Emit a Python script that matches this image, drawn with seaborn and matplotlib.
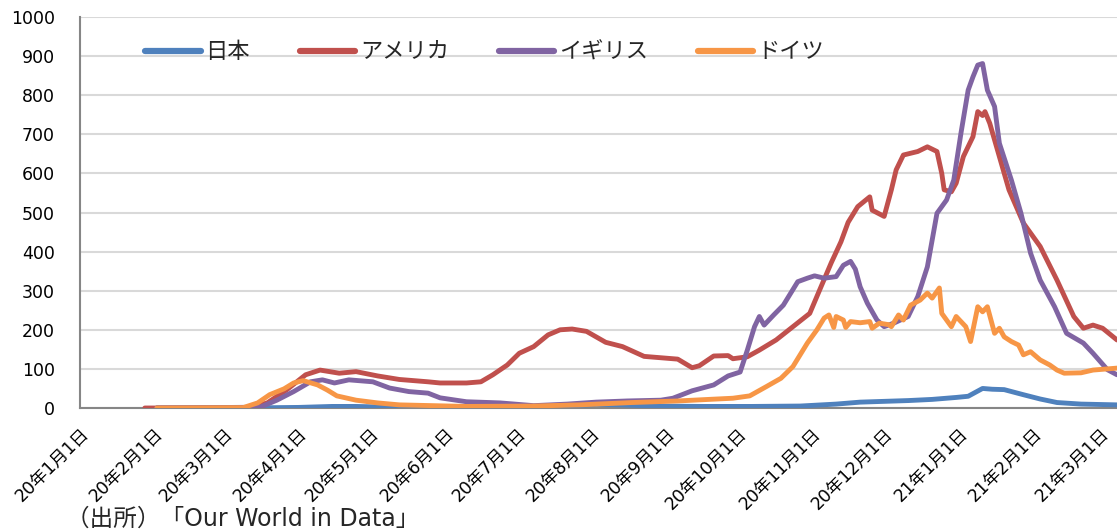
import matplotlib
matplotlib.use("Agg")
import matplotlib.pyplot as plt
from matplotlib.lines import Line2D
import seaborn as sns
import pandas as pd

# ---------------- data (new cases per million, 7-day average) ----------------
series_names = ["日本", "アメリカ", "イギリス", "ドイツ"]
series_colors = ["#4F81BD", "#C0504D", "#8064A2", "#F79646"]

japan_dates = ["2020-02-02", "2020-03-01", "2020-03-16", "2020-04-01", "2020-04-15", "2020-04-25",
               "2020-05-10", "2020-05-30", "2020-06-24", "2020-07-09", "2020-07-19", "2020-08-03",
               "2020-08-13", "2020-08-28", "2020-09-17", "2020-10-07", "2020-10-27", "2020-11-11",
               "2020-11-21", "2020-12-01", "2020-12-11", "2020-12-21", "2020-12-31", "2021-01-05",
               "2021-01-08", "2021-01-11", "2021-01-15", "2021-01-20", "2021-01-28", "2021-02-04",
               "2021-02-11", "2021-02-21", "2021-03-08"]
japan_values = [0, 0, 0.5, 1.5, 4, 4, 2, 0.5, 1, 3, 5, 9, 8, 5, 4, 4, 5, 10, 15, 17, 19, 22, 27, 30,
                40, 50, 48, 47, 34, 23, 14, 10, 8]

usa_dates = ["2020-01-28", "2020-03-01", "2020-03-12", "2020-03-19", "2020-03-27", "2020-04-04",
             "2020-04-10", "2020-04-18", "2020-04-25", "2020-05-04", "2020-05-13", "2020-05-25",
             "2020-05-30", "2020-06-10", "2020-06-16", "2020-06-21", "2020-06-27", "2020-07-02",
             "2020-07-08", "2020-07-14", "2020-07-19", "2020-07-24", "2020-07-30", "2020-08-07",
             "2020-08-14", "2020-08-23", "2020-09-06", "2020-09-12", "2020-09-15", "2020-09-21",
             "2020-09-27", "2020-09-29", "2020-10-05", "2020-10-10", "2020-10-17", "2020-10-24",
             "2020-10-31", "2020-11-04", "2020-11-09", "2020-11-13", "2020-11-16", "2020-11-20",
             "2020-11-25", "2020-11-26", "2020-12-01", "2020-12-04", "2020-12-06", "2020-12-09",
             "2020-12-15", "2020-12-19", "2020-12-23", "2020-12-25", "2020-12-26", "2020-12-29",
             "2020-12-31", "2021-01-03", "2021-01-07", "2021-01-09", "2021-01-11", "2021-01-12",
             "2021-01-14", "2021-01-18", "2021-01-22", "2021-01-28", "2021-02-04", "2021-02-11",
             "2021-02-18", "2021-02-22", "2021-02-26", "2021-03-02", "2021-03-08"]
usa_values = [0, 0, 1, 13, 46, 85, 97, 89, 93, 82, 73, 67, 64, 64, 67, 85, 110, 140, 157, 187, 200,
              202, 196, 168, 157, 132, 125, 103, 108, 133, 134, 126, 131, 148, 174, 208, 242, 300,
              372, 425, 475, 515, 540, 506, 490, 558, 609, 647, 656, 668, 656, 600, 558, 553, 575,
              643, 694, 758, 748, 758, 728, 643, 558, 473, 413, 327, 234, 204, 212, 204, 174]

uk_dates = ["2020-02-02", "2020-03-16", "2020-03-23", "2020-03-30", "2020-04-06", "2020-04-11",
            "2020-04-16", "2020-04-22", "2020-05-02", "2020-05-09", "2020-05-17", "2020-05-25",
            "2020-05-30", "2020-06-10", "2020-06-24", "2020-07-08", "2020-07-22", "2020-08-03",
            "2020-08-16", "2020-08-30", "2020-09-04", "2020-09-12", "2020-09-21", "2020-09-27",
            "2020-10-02", "2020-10-05", "2020-10-08", "2020-10-10", "2020-10-12", "2020-10-16",
            "2020-10-20", "2020-10-26", "2020-10-30", "2020-11-02", "2020-11-06", "2020-11-11",
            "2020-11-14", "2020-11-17", "2020-11-19", "2020-11-21", "2020-11-24", "2020-11-28",
            "2020-12-01", "2020-12-05", "2020-12-11", "2020-12-15", "2020-12-19", "2020-12-23",
            "2020-12-27", "2020-12-30", "2021-01-02", "2021-01-05", "2021-01-07", "2021-01-09",
            "2021-01-11", "2021-01-13", "2021-01-16", "2021-01-18", "2021-01-23", "2021-01-27",
            "2021-01-31", "2021-02-04", "2021-02-10", "2021-02-15", "2021-02-22", "2021-02-26",
            "2021-03-04", "2021-03-08"]
uk_values = [0, 2, 20, 42, 67, 72, 64, 72, 67, 51, 42, 38, 26, 16, 13, 6, 10, 15, 18, 20, 25, 44,
             59, 82, 92, 148, 208, 234, 212, 238, 263, 323, 332, 338, 332, 336, 365, 375, 355, 310,
             268, 225, 208, 217, 234, 285, 361, 498, 532, 583, 703, 813, 847, 877, 881, 813, 771,
             677, 583, 498, 396, 327, 259, 191, 166, 140, 98, 85]

germany_dates = ["2020-02-02", "2020-03-09", "2020-03-15", "2020-03-20", "2020-03-26", "2020-03-30",
                 "2020-04-03", "2020-04-09", "2020-04-13", "2020-04-17", "2020-04-25", "2020-05-04",
                 "2020-05-13", "2020-06-10", "2020-07-08", "2020-07-27", "2020-08-18", "2020-09-06",
                 "2020-09-19", "2020-09-29", "2020-10-06", "2020-10-13", "2020-10-19", "2020-10-24",
                 "2020-10-30", "2020-11-03", "2020-11-06", "2020-11-08", "2020-11-10", "2020-11-11",
                 "2020-11-14", "2020-11-15", "2020-11-17", "2020-11-21", "2020-11-25", "2020-11-26",
                 "2020-11-29", "2020-12-03", "2020-12-04", "2020-12-07", "2020-12-09", "2020-12-12",
                 "2020-12-16", "2020-12-19", "2020-12-21", "2020-12-24", "2020-12-25", "2020-12-29",
                 "2020-12-31", "2021-01-04", "2021-01-06", "2021-01-09", "2021-01-11", "2021-01-13",
                 "2021-01-16", "2021-01-18", "2021-01-20", "2021-01-23", "2021-01-26", "2021-01-28",
                 "2021-01-31", "2021-02-04", "2021-02-08", "2021-02-11", "2021-02-14", "2021-02-21",
                 "2021-02-26", "2021-03-08"]
germany_values = [0, 1, 13, 34, 49, 64, 70, 59, 46, 31, 20, 13, 8, 4, 5, 8, 14, 18, 22, 25, 31, 55,
                  76, 106, 166, 200, 230, 238, 206, 234, 225, 206, 221, 218, 221, 204, 217, 213, 208,
                  238, 225, 263, 276, 294, 281, 307, 242, 208, 234, 208, 170, 259, 246, 259, 191, 204,
                  182, 170, 161, 136, 144, 123, 110, 97, 89, 90, 97, 102]

month_ticks = pd.date_range("2020-01-01", "2021-03-01", freq="MS")
tick_labels = [f"{d.year % 100}年{d.month}月1日" for d in month_ticks]
source_text = "（出所）「Our World in Data」"

# ---------------- figure ----------------
sns.set_theme(style="white")
plt.rcParams["font.family"] = ["DejaVu Sans", "Noto Sans CJK JP"]

fig = plt.figure(figsize=(11.17, 5.31), dpi=100)
ax = fig.add_axes([80 / 1117, 1 - 408 / 531, 1 - 80 / 1117, (408 - 17) / 531])

frames = []
for name, dates, vals in [("日本", japan_dates, japan_values),
                          ("アメリカ", usa_dates, usa_values),
                          ("イギリス", uk_dates, uk_values),
                          ("ドイツ", germany_dates, germany_values)]:
    frames.append(pd.DataFrame({"date": pd.to_datetime(dates), "value": vals, "country": name}))
df = pd.concat(frames, ignore_index=True)

for name, color in zip(series_names, series_colors):
    sub = df[df["country"] == name]
    sns.lineplot(data=sub, x="date", y="value", ax=ax, color=color, linewidth=3.5,
                 solid_capstyle="round", solid_joinstyle="round", legend=False, zorder=3)

ax.set_xlim(pd.Timestamp("2020-01-01"), pd.Timestamp("2021-03-08"))
ax.set_ylim(0, 1000)
ax.set_yticks(range(0, 1001, 100))
ax.set_xticks(month_ticks)
ax.set_xticklabels(tick_labels, rotation=45, ha="right", va="top", rotation_mode="anchor")
ax.set_xlabel("")
ax.set_ylabel("")

ax.grid(axis="y", color="#D9D9D9", linewidth=1.5, zorder=0)
ax.grid(axis="x", visible=False)
ax.set_axisbelow(True)

for side in ["top", "right"]:
    ax.spines[side].set_visible(False)
for side in ["left", "bottom"]:
    ax.spines[side].set_color("#868686")
    ax.spines[side].set_linewidth(1.5)
    ax.spines[side].set_zorder(2)

ax.tick_params(axis="y", length=0, pad=18, labelsize=12.5, labelcolor="black")
ax.tick_params(axis="x", direction="in", length=5, width=1.3, color="#868686", pad=12,
               labelsize=12.5, labelcolor="black")

handles = [Line2D([], [], color=c, linewidth=4.5, solid_capstyle="round") for c in series_colors]
ax.legend(handles, series_names, loc="center left", bbox_to_anchor=(0.063, 0.91), ncol=4,
          frameon=False, fontsize=16, handlelength=2.5, handletextpad=0.2, columnspacing=2.25,
          borderpad=0, borderaxespad=0)

fig.text(66 / 1117, 1 - 519 / 531, source_text, fontsize=17, ha="left", va="center")

fig.savefig("out.png", dpi=100)
